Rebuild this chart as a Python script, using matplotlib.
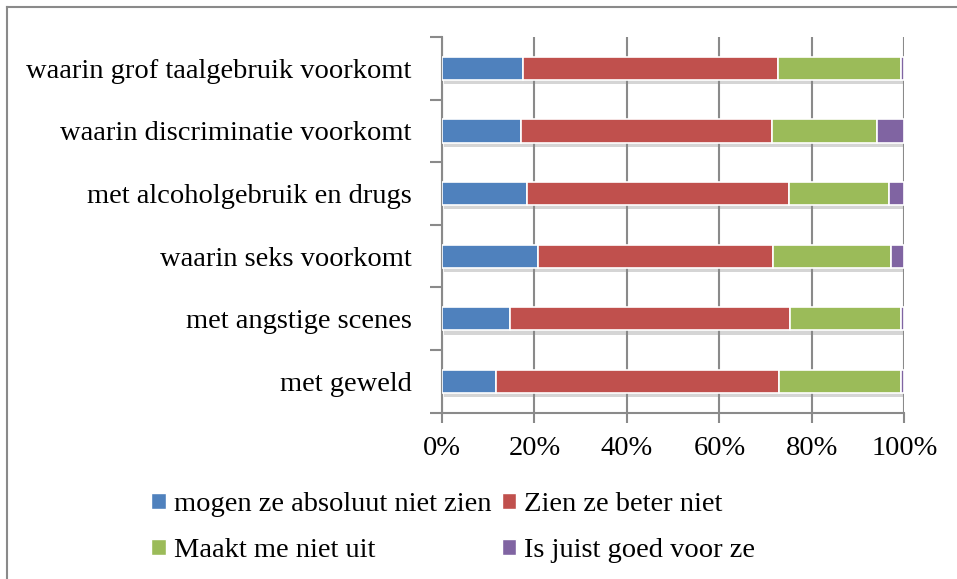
import matplotlib
matplotlib.use("Agg")
import matplotlib.pyplot as plt
import matplotlib.patheffects as pe
from matplotlib.patches import Patch
from matplotlib.ticker import PercentFormatter
import numpy as np

categories = [
    "waarin grof taalgebruik voorkomt",
    "waarin discriminatie voorkomt",
    "met alcoholgebruik en drugs",
    "waarin seks voorkomt",
    "met angstige scenes",
    "met geweld",
]
series_names = [
    "mogen ze absoluut niet zien",
    "Zien ze beter niet",
    "Maakt me niet uit",
    "Is juist goed voor ze",
]
absoluut_niet = [17.5, 17.0, 18.3, 20.8, 14.7, 11.6]
beter_niet = [55.2, 54.3, 56.8, 50.8, 60.6, 61.4]
niet_uit = [26.5, 22.9, 21.6, 25.6, 23.9, 26.2]
juist_goed = [0.8, 5.8, 3.3, 2.8, 0.8, 0.8]
x_ticks = [0, 20, 40, 60, 80, 100]

colors = ["#4F81BD", "#C0504D", "#9BBB59", "#8064A2"]
series = [absoluut_niet, beter_niet, niet_uit, juist_goed]

plt.rcParams["font.family"] = ["Liberation Serif", "DejaVu Serif"]
FS = 20.5

fig = plt.figure(figsize=(9.57, 5.79), dpi=100)
ax = fig.add_axes([442 / 957, 1 - 412.7 / 579, (904.3 - 442) / 957, (412.7 - 37) / 579])

# outer frame (top and left visible)
fig.add_artist(plt.Line2D([7 / 957, 7 / 957], [0, 1 - 7 / 579], transform=fig.transFigure, color="#8a8a8a", lw=1.5))
fig.add_artist(plt.Line2D([7 / 957, 1], [1 - 7 / 579, 1 - 7 / 579], transform=fig.transFigure, color="#8a8a8a", lw=1.5))

y = np.arange(len(categories))
left = np.zeros(len(categories))
shadow = [pe.SimplePatchShadow(offset=(1.5, -3), shadow_rgbFace="#888888", alpha=0.35), pe.Normal()]
for vals, col, name in zip(series, colors, series_names):
    vals = np.array(vals)
    bars = ax.barh(y, vals, left=left, height=0.372, color=col, edgecolor="white",
                   linewidth=1.2, label=name, zorder=3)
    for b in bars:
        b.set_path_effects(shadow)
    left += vals

ax.set_xlim(0, 100)
ax.set_ylim(len(categories) - 0.5, -0.5)
ax.set_xticks(x_ticks)
ax.xaxis.set_major_formatter(PercentFormatter(decimals=0))
ax.set_yticks(y)
ax.set_yticklabels(categories)
ax.set_yticks(np.arange(len(categories) + 1) - 0.5, minor=True)
ax.tick_params(axis="y", which="major", length=0, pad=22, labelsize=FS)
ax.tick_params(axis="y", which="minor", length=9, width=1.5, color="#8a8a8a")
ax.tick_params(axis="x", which="major", length=7, width=1.5, color="#8a8a8a", pad=10, labelsize=FS)

ax.grid(axis="x", color="#8a8a8a", linewidth=1.5, zorder=0)
ax.set_axisbelow(True)
for s in ["top", "right"]:
    ax.spines[s].set_visible(False)
for s in ["left", "bottom"]:
    ax.spines[s].set_color("#8a8a8a")
    ax.spines[s].set_linewidth(1.5)

# legend: row-wise order (blue, red / green, purple) -> column-major fill order
order = [0, 2, 1, 3]
handles = [Patch(facecolor=colors[i], edgecolor="white") for i in order]
labels = [series_names[i] for i in order]
leg = fig.legend(handles, labels, loc="upper left", bbox_to_anchor=(140 / 957, 1 - 481 / 579),
                 ncol=2, frameon=False, fontsize=FS, handlelength=0.5, handleheight=0.5,
                 handletextpad=0.3, columnspacing=0.35, labelspacing=0.72, borderaxespad=0)

fig.savefig("out.png", dpi=100)
